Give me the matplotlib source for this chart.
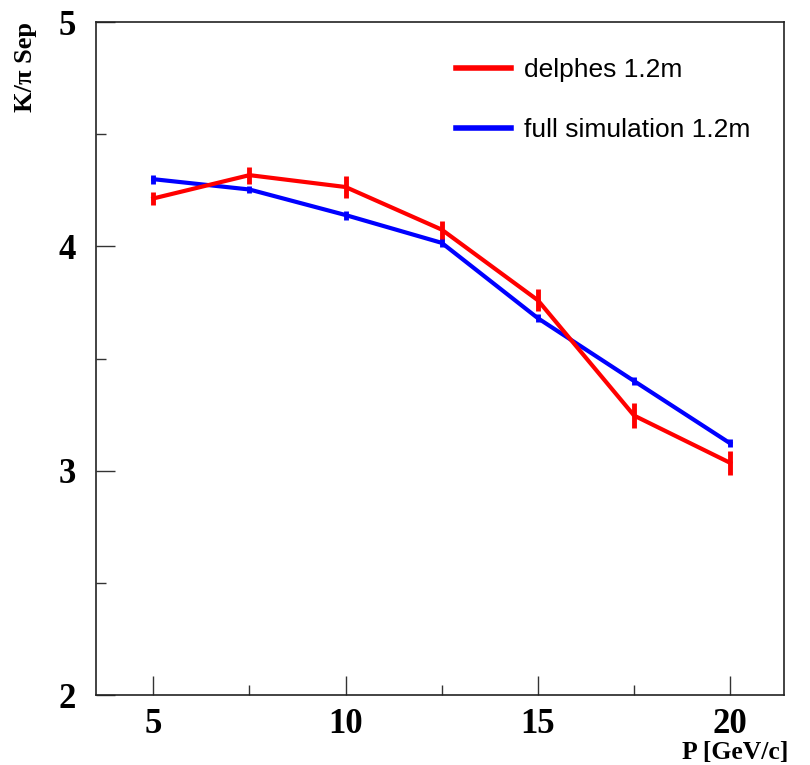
import matplotlib
matplotlib.use("Agg")
import matplotlib.pyplot as plt
from matplotlib.ticker import MultipleLocator, FixedLocator
from matplotlib.lines import Line2D

p = [5, 7.5, 10, 12.5, 15, 17.5, 20]
delphes = [4.214, 4.318, 4.265, 4.075, 3.76, 3.246, 3.035]
delphes_err = [0.03, 0.038, 0.05, 0.04, 0.05, 0.055, 0.055]
fullsim = [4.30, 4.254, 4.14, 4.016, 3.68, 3.40, 3.122]
fullsim_err = [0.02, 0.016, 0.02, 0.02, 0.018, 0.018, 0.018]
labels = ["delphes 1.2m", "full simulation 1.2m"]
colors = ["#ff0000", "#0000ff"]

xticks = [5, 10, 15, 20]
yticks = [2, 3, 4, 5]

fig = plt.figure(figsize=(8.1, 7.65), dpi=100)
ax = fig.add_axes([0.118, 0.0915, 0.850, 0.8795])

ax.errorbar(p, delphes, yerr=delphes_err, color=colors[0], lw=3, elinewidth=3.5,
            capsize=0, zorder=3)
ax.errorbar(p, fullsim, yerr=fullsim_err, color=colors[1], lw=3, elinewidth=3.5,
            capsize=0, zorder=2)

ax.set_xlim(3.5, 21.4)
ax.set_ylim(2, 5)
ax.xaxis.set_major_locator(FixedLocator(xticks))
ax.xaxis.set_minor_locator(FixedLocator([7.5, 12.5, 17.5]))
ax.yaxis.set_major_locator(FixedLocator(yticks))
ax.yaxis.set_minor_locator(MultipleLocator(0.5))

serif = "Liberation Serif"
ax.set_xticklabels([str(v) for v in xticks], fontfamily=serif, fontweight="bold", fontsize=25)
ax.set_yticklabels([str(v) for v in yticks], fontfamily=serif, fontweight="bold", fontsize=25)
ax.tick_params(axis="both", which="major", direction="in", length=14, width=1, color="#333333")
ax.tick_params(axis="both", which="minor", direction="in", length=7, width=1, color="#333333")
ax.tick_params(axis="x", which="major", pad=9)
ax.tick_params(axis="y", which="major", pad=14)
for s in ax.spines.values():
    s.set_linewidth(1.2)
    s.set_color("#222222")

ax.set_ylabel("K/π Sep", fontfamily=serif, fontweight="bold", fontsize=19, loc="top")
ax.yaxis.set_label_coords(-0.085, 1.0)
ax.set_xlabel("P [GeV/c]", fontfamily=serif, fontweight="bold", fontsize=18.5, loc="right")
ax.xaxis.set_label_coords(1.006, -0.068)

handles = [Line2D([], [], color=c, lw=4) for c in colors]
ax.legend(handles, labels, loc="upper left", bbox_to_anchor=(0.505, 0.966), frameon=False,
          prop={"family": "Liberation Sans", "size": 19},
          handlelength=2.05, handletextpad=0.5, labelspacing=1.35, borderpad=0)

fig.savefig("out.png", dpi=100)
